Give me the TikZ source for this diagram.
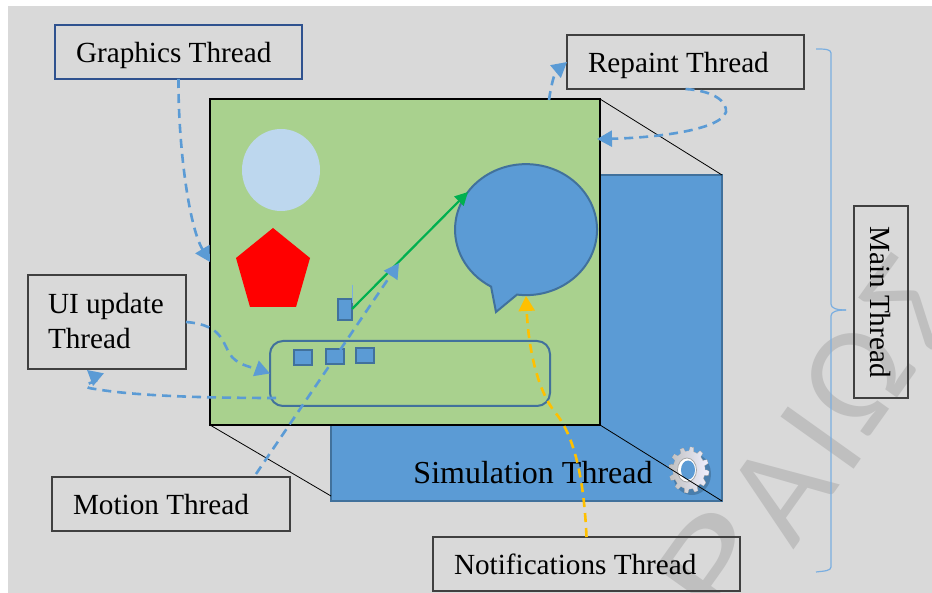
\documentclass[tikz,border=0pt]{standalone}
\usepackage{fontspec}
\setmainfont{Liberation Serif}
\newfontfamily\markfont{Carlito}
\usetikzlibrary{arrows.meta}
\definecolor{pagegray}{HTML}{D9D9D9}
\definecolor{markgray}{HTML}{BFBFBF}
\definecolor{paneblue}{HTML}{5B9BD5}
\definecolor{edgeblue}{HTML}{41719C}
\definecolor{panegreen}{HTML}{A9D18E}
\definecolor{lightblue}{HTML}{BDD7EE}
\definecolor{arrowgreen}{HTML}{00B050}
\definecolor{arrowyellow}{HTML}{FFC000}
\definecolor{bracketblue}{HTML}{7AAEE0}
\definecolor{boxblue}{HTML}{2F528F}
\tikzset{
	threadbox/.style={draw=black!75, line width=1.1pt, inner ysep=0pt, inner xsep=21pt, outer sep=0pt, align=flush left, text height=24.5pt, text depth=3.5pt, font=\fontsize{29.2}{35}\selectfont},
	threadflow/.style={paneblue, line width=2.6pt, dash pattern=on 9pt off 6pt, -{Triangle[length=15pt,width=16pt]}},
	yellowflow/.style={threadflow, arrowyellow},
	smallpane/.style={draw=edgeblue, fill=paneblue, line width=2pt},
	panelink/.style={black, line width=0.8pt},
	markletter/.style={anchor=base, inner sep=0pt, rotate=54.5, text=markgray, font={\markfont\fontsize{140}{140}\selectfont}},
}
\begin{document}
\begin{tikzpicture}[x=1pt,y=-1pt]
		\useasboundingbox (0,0) rectangle (932,593);
		\fill[pagegray] (8,6) rectangle (932,593);
		%
		%watermark
		\begin{scope}
			\clip (8,6) rectangle (932,593);
			\node (markp) at (750,590) [markletter] {\scalebox{1.4}[1]{P}};
			\node (marka) at (817,518) [markletter] {A};
			\node (marki) at (858,464) [markletter] {I};
			\node (markw) at (893,404) [markletter] {Ω};
			\node (marks) at (948,327) [markletter] {Σ};
		\end{scope}
		%
		%panes
		\node (back) at (526.5,338) [draw=edgeblue, fill=paneblue, line width=1.5pt, minimum width=391pt, minimum height=326pt, inner sep=0pt, outer sep=0pt] {};
		\node (front) at (405,262) [draw=black, fill=panegreen, line width=2pt, minimum width=390pt, minimum height=326pt, inner sep=0pt, outer sep=0pt] {};
		\node (simulation) at (533,473) [font=\fontsize{32}{35}\selectfont] {Simulation Thread};
		%
		%draw gear
		\fill[edgeblue!70!paneblue] plot[domain=0:360, samples=25, smooth] ({692+19*cos(\x)},{474+21*sin(\x)});
		\fill[left color=black!25, right color=blue!6, draw=black!20, line width=0.3pt] plot[domain=0:360, samples=109] ({689+(18+2*sign(sin(12*\x)))*cos(\x)},{470+(21+2*sign(sin(12*\x)))*sin(\x)}) -- cycle;
		\filldraw[fill=white, draw=black!35, line width=0.8pt] (687,470) ellipse (9.5 and 12);
		\fill[paneblue] (688,470) ellipse (7 and 9.5);
		%
		\draw[panelink] (front.north east) to (back.north east);
		\draw[panelink] (front.south west) to ([yshift=5pt]back.south west);
		\draw[panelink] (front.south east) to (back.south east);
		%
		%shapes on the pane
		\fill[lightblue] (281,170) ellipse (39 and 41);
		\fill[red] (273,228) -- (310,258) -- (296,307) -- (250,307) -- (236,258) -- cycle;
		\draw[smallpane] (517,294.6) arc[start angle=97.3, end angle=-240.5, x radius=71, y radius=65.5] -- (496,312) -- cycle;
		\node (list) at (410,373.5) [draw=edgeblue, rounded corners=13pt, line width=2pt, minimum width=280pt, minimum height=65pt, inner sep=0pt, outer sep=0pt] {};
		\node (item1) at (303,358) [smallpane, minimum width=18pt, minimum height=15pt, inner sep=0pt] {};
		\node (item2) at (335,356.5) [smallpane, minimum width=18pt, minimum height=15pt, inner sep=0pt] {};
		\node (item3) at (365,355.5) [smallpane, minimum width=18pt, minimum height=15pt, inner sep=0pt] {};
		\node (ball) at (345,310) [smallpane, minimum width=14pt, minimum height=21pt, inner sep=0pt] {};
		\draw[bracketblue, line width=0.8pt] (352,285) to (352,303);
		%
		\coordinate (balltip) at (352,309);
		\coordinate (bubblein) at (468,192);
		\draw[arrowgreen, line width=2.2pt, -{Triangle[length=13pt,width=13pt]}] (balltip) to (bubblein);
		%
		%thread boxes
		\node (graphics) at (178.5,52) [threadbox, draw=boxblue, text width=205pt, minimum height=54pt] {Graphics Thread};
		\node (repaint) at (685.5,62) [threadbox, text width=195pt, minimum height=54pt] {Repaint Thread};
		\node (update) at (107,322) [threadbox, inner xsep=20pt, text width=118pt, text height=20pt, text depth=37pt, minimum height=94pt] {\mbox{UI update}\\Thread};
		\node (motion) at (171,504) [threadbox, text width=196pt, minimum height=54pt] {Motion Thread};
		\node (notifications) at (586.5,564) [threadbox, text width=265pt, minimum height=54pt] {Notifications Thread};
		\node (main) at (881,302) [threadbox, rotate=-90, inner xsep=0pt, align=flush center, text width=192pt, minimum height=54pt] {Main Thread};
		%
		%bracket
		\draw[bracketblue, line width=1.2pt] (816,49) .. controls (824,49) and (831,49) .. (831,53) -- (831,304) .. controls (831,308) and (836,310) .. (846,310);
		\draw[bracketblue, line width=1.2pt] (846,310) .. controls (836,310) and (831,312) .. (831,316) -- (831,567) .. controls (831,571) and (824,571) .. (816,572);
		%
		%thread arrows
		\coordinate (paneout) at (549,100);
		\coordinate (panein) at (597,139);
		\coordinate (listout) at (276,398);
		\coordinate (updatein) at (87,370);
		\coordinate (motionout) at (256,474);
		\coordinate (listin) at (399,263);
		\coordinate (notifyout) at (586.5,537);
		\coordinate (bubblefoot) at (526,296);
		\draw[threadflow] (graphics.south) .. controls (178,140) and (188,225) .. (front.west);
		\draw[threadflow] (paneout) .. controls (551,85) and (555,72) .. (repaint.west);
		\draw[threadflow] (repaint.south) .. controls (715,91) and (727,102) .. (726,112) .. controls (720,131) and (650,138) .. (panein);
		\draw[threadflow] (update.east) .. controls (225,325) and (222,345) .. (232,357) .. controls (240,366) and (255,368) .. (list.west);
		\draw[threadflow] (listout) .. controls (190,398) and (130,395) .. (95,389) .. controls (72,386) and (100,381) .. (updatein);
		\draw[threadflow] (motionout) to (listin);
		\draw[yellowflow] (notifyout) .. controls (584,480) and (575,440) .. (558,416) .. controls (535,390) and (528,340) .. (bubblefoot);
	\end{tikzpicture}
\end{document}
